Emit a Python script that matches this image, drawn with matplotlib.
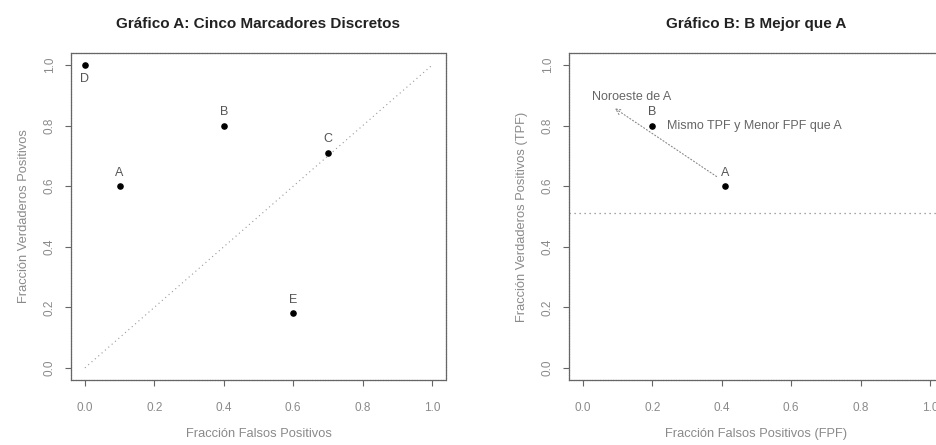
import matplotlib
matplotlib.use("Agg")
import matplotlib.pyplot as plt

# ---- data ----
labels_a = ["A", "B", "C", "D", "E"]
fpf_a = [0.10, 0.40, 0.70, 0.00, 0.60]
tpf_a = [0.60, 0.80, 0.71, 1.00, 0.18]
label_pos_a = ["above", "above", "above", "below", "above"]

labels_b = ["A", "B"]
fpf_b = [0.41, 0.20]
tpf_b = [0.60, 0.80]

arrow_start = (0.385, 0.632)
arrow_end = (0.092, 0.857)
hline_b = 0.51

ticks = [0.0, 0.2, 0.4, 0.6, 0.8, 1.0]
tick_labels = ["0.0", "0.2", "0.4", "0.6", "0.8", "1.0"]

title_a = "Gráfico A: Cinco Marcadores Discretos"
title_b = "Gráfico B: B Mejor que A"
xlabel_a = "Fracción Falsos Positivos"
ylabel_a = "Fracción Verdaderos Positivos"
xlabel_b = "Fracción Falsos Positivos (FPF)"
ylabel_b = "Fracción Verdaderos Positivos (TPF)"
note_nw = "Noroeste de A"
note_b = "Mismo TPF y Menor FPF que A"

plt.rcParams['font.family'] = ['Liberation Sans', 'DejaVu Sans']

W, H = 937, 445
fig = plt.figure(figsize=(W / 100, H / 100), dpi=100)

txt_col = "#8a8a8a"
spine_col = "#666666"

def style(ax, title, xl, yl):
    ax.set_xlim(-0.04, 1.04)
    ax.set_ylim(-0.04, 1.04)
    for s in ax.spines.values():
        s.set_color(spine_col)
        s.set_linewidth(0.9)
        s.set_linestyle((0, (1.5, 0.6)))
    ax.set_xticks(ticks)
    ax.set_xticklabels(tick_labels)
    ax.set_yticks(ticks)
    ax.set_yticklabels(tick_labels, rotation=90, va="center")
    ax.tick_params(direction="out", length=4, width=0.8, color=spine_col,
                   labelsize=8.5, labelcolor=txt_col, pad=12)
    ax.tick_params(axis="y", pad=7)
    ax.set_title(title, fontsize=11, fontweight="bold", color="#222222", pad=18)
    ax.set_xlabel(xl, fontsize=9.3, color=txt_col, labelpad=10)
    ax.set_ylabel(yl, fontsize=9.3, color=txt_col, labelpad=10)

# Panel A
axA = fig.add_axes([71 / W, (H - 380) / H, 375 / W, 327 / H])
style(axA, title_a, xlabel_a, ylabel_a)
axA.plot([0, 1], [0, 1], linestyle=(0, (1, 3)), color="#999999", linewidth=0.8)
axA.scatter(fpf_a, tpf_a, s=14, color="black", zorder=3)
for lab, x, y, p in zip(labels_a, fpf_a, tpf_a, label_pos_a):
    dy = 0.045 if p == "above" else -0.045
    axA.text(x, y + dy, lab, fontsize=9, color="#555555", ha="center",
             va="center")

# Panel B
axB = fig.add_axes([569 / W, (H - 380) / H, 375 / W, 327 / H])
style(axB, title_b, xlabel_b, ylabel_b)
axB.axhline(hline_b, linestyle=(0, (1, 3)), color="#888888", linewidth=0.9)
axB.scatter(fpf_b, tpf_b, s=14, color="black", zorder=3)
for lab, x, y in zip(labels_b, fpf_b, tpf_b):
    axB.text(x, y + 0.045, lab, fontsize=9, color="#555555", ha="center",
             va="center")
axB.annotate("", xy=arrow_end, xytext=arrow_start,
             arrowprops=dict(arrowstyle="->", linestyle=(0, (1, 2)),
                             color="#888888", linewidth=0.8,
                             mutation_scale=10, shrinkA=0, shrinkB=0))
axB.text(0.14, 0.896, note_nw, fontsize=9, color="#666666", ha="center",
         va="center")
axB.text(0.242, 0.80, note_b, fontsize=9, color="#666666", ha="left",
         va="center")

fig.savefig("out.png", dpi=100)
